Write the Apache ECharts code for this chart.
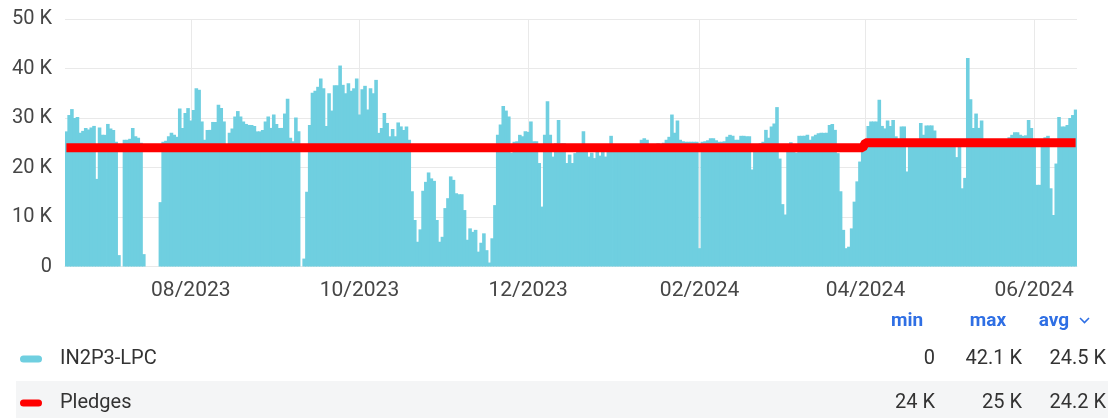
<!DOCTYPE html>
<html>
<head>
<meta charset="utf-8">
<title>IN2P3-LPC vs Pledges</title>
<script src="https://cdn.jsdelivr.net/npm/echarts@6/dist/echarts.min.js"></script>
<style>
  html, body { margin: 0; padding: 0; background: #fff; }
  #chart { width: 1112px; height: 418px; }
</style>
</head>
<body>
<div id="chart"></div>
<script>
// ---- data (values in K) ----
var startDay = [2023, 5, 17];   // 2023-06-17, one bar per day
var dayCount = 366;

var lpcValues = [
  27.3, 30.6, 31.8, 30, 30.2, 27, 27.4, 28, 27.7, 28.1,
  28.4, 17.7, 28.1, 26.6, 26.6, 28.8, 27.9, 27.6, 25.2, 2.3,
  0, 25.6, 25.6, 25.8, 28, 26.3, 26, 25, 2.5, 0,
  0, 0, 0, 0, 13, 25.2, 25.4, 26.3, 27, 26.6,
  26.2, 31.9, 28, 31, 32, 29.5, 31.6, 36, 35.7, 29.3,
  25.6, 27.6, 27.6, 29.2, 29.2, 32.7, 32, 29.3, 24, 27,
  27.9, 30.3, 31.4, 30.3, 29.3, 28.8, 28.6, 28.6, 28.4, 27.3,
  27.3, 27.6, 29.3, 30.3, 28, 30.7, 28.8, 28, 28, 30.9,
  33.9, 26, 25.3, 30.1, 27.3, 0, 1.6, 15.1, 28.6, 35.1,
  35.5, 36.3, 38, 36, 28.4, 35, 31.5, 36.6, 36.6, 40.6,
  36.7, 35, 37, 35.5, 36, 38, 30.7, 35.8, 36.5, 31.7,
  36, 35, 37.7, 27, 28, 31, 29, 26.3, 27.8, 26.3,
  29.1, 28.3, 27.6, 28.3, 25.6, 15.2, 9.4, 5, 7.5, 15.3,
  17.1, 19, 17.8, 17.3, 9.4, 5, 6, 11.8, 13.8, 18.2,
  17.5, 14.8, 14.6, 14.6, 11.4, 5.4, 7.7, 7, 7.4, 3,
  4.8, 6.7, 3.3, 0.8, 5.7, 12.4, 26.6, 28.7, 32.4, 31.5,
  30.3, 23, 25.2, 25.3, 26.6, 26.3, 27.3, 27.2, 29.3, 25.3,
  25.3, 20.9, 12.1, 26.6, 33.4, 26.6, 22.2, 24.9, 29.6, 24.9,
  24.9, 20.9, 22.6, 20.9, 22.9, 24.3, 24.3, 27.3, 24.5, 22.2,
  23, 21.9, 24, 22.4, 23.2, 22.2, 23.7, 26.4, 24, 23.2,
  23.5, 23.2, 23.6, 23.4, 23.8, 24.2, 24.6, 24.5, 25.6, 25.9,
  25.6, 24.6, 24.3, 24.5, 24.9, 24.6, 25, 25.6, 26.2, 30.7,
  27, 29.5, 25.6, 25.3, 25.2, 25.2, 25.2, 25.2, 25.2, 3.7,
  25.2, 25.3, 25.5, 25.9, 25.9, 25.5, 25.2, 25.2, 25.3, 26.2,
  26.6, 26.4, 25.6, 25.6, 26.4, 26.4, 26.3, 26.3, 19.6, 24.5,
  24.7, 24.9, 25.2, 27.6, 26, 28.3, 28.9, 32.2, 21.8, 12.6,
  10.5, 24.6, 25.1, 24.6, 23, 26.4, 26.4, 26.4, 26.6, 25.6,
  26.3, 26.6, 26.9, 27, 27, 27, 28.6, 28.8, 27.6, 22.9,
  15.2, 7.4, 3.7, 4, 7.7, 13.1, 17.2, 21.2, 23.2, 24.6,
  28.4, 29.3, 29.3, 29.3, 33.7, 28.4, 27.9, 29.5, 28.4, 29.6,
  26.3, 25, 28.3, 28.3, 19.2, 25.3, 25.3, 25.3, 25.3, 29,
  26.6, 28.5, 28.5, 28.5, 27.5, 25.3, 25.3, 25.3, 25.3, 25.3,
  25.3, 25.3, 22.1, 25.3, 15.8, 17.9, 42.1, 33.8, 28, 30.9,
  28, 29.5, 25.3, 25.3, 25.3, 25.3, 25.3, 25.3, 25.3, 25.3,
  25.3, 26.1, 26.6, 27.1, 27.1, 26.6, 26.4, 26.5, 29.6, 28,
  25.3, 16.5, 16.5, 25.3, 26.1, 26.4, 15.8, 10.4, 20.8, 30.2,
  28.3, 28.3, 28.6, 30, 30.6, 31.7
];

// pledge level changes: [date, value in K]
var pledgePoints = [
  ['2023-06-17', 24],
  ['2024-03-31', 24],
  ['2024-04-01', 25],
  ['2024-06-16', 25]
];

var tickMonths = ['08/2023', '10/2023', '12/2023', '02/2024', '04/2024', '06/2024'];
var yTicks = [0, 10, 20, 30, 40, 50];

var seriesNames = ['IN2P3-LPC', 'Pledges'];
var seriesColors = ['#6fcfe0', '#ff0000'];
var statHeaders = ['min', 'max', 'avg'];
var statRows = [
  ['0', '42.1 K', '24.5 K'],
  ['24 K', '25 K', '24.2 K']
];

(function () {
  'use strict';

  var font = 'Roboto, "Noto Sans", sans-serif';
  var ink = '#333333';
  var axisInk = '#464646';
  var gridColor = '#e9e9e9';
  var headBlue = '#2f6fe4';

  // daily category labels
  var dates = [];
  var t0 = Date.UTC(startDay[0], startDay[1], startDay[2]);
  for (var i = 0; i < dayCount; i++) {
    dates.push(new Date(t0 + i * 86400000).toISOString().slice(0, 10));
  }

  function monthLabel(d) { return d.slice(5, 7) + '/' + d.slice(0, 4); }
  function isTick(index) {
    var d = dates[index];
    return !!d && d.slice(8) === '01' && tickMonths.indexOf(monthLabel(d)) >= 0;
  }

  // legend table (swatch, name, min/max/avg)
  var colRight = [935, 1022, 1106];
  var headCenter = [907, 988, 1054];
  var rowY = [359, 403];
  var headFont = 'bold 19px ' + font;
  var rowFont = '20px ' + font;
  var graphics = [
    { type: 'rect', shape: { x: 16, y: 381, width: 1092, height: 37 }, style: { fill: '#f4f5f6' }, z: 0 },
    { type: 'polyline', shape: { points: [[1080, 318], [1084.5, 322.5], [1089, 318]] }, style: { stroke: headBlue, lineWidth: 1.6, fill: null } }
  ];
  statHeaders.forEach(function (h, c) {
    graphics.push({ type: 'text', x: headCenter[c], y: 321, style: { text: h, fill: headBlue, font: headFont, textAlign: 'center', textVerticalAlign: 'middle' } });
  });
  seriesNames.forEach(function (name, r) {
    graphics.push({ type: 'rect', shape: { x: 20, y: rowY[r] - 3.5, width: 22, height: 7, r: 3.5 }, style: { fill: seriesColors[r] } });
    graphics.push({ type: 'text', x: 60, y: rowY[r], style: { text: name, fill: ink, font: rowFont, textVerticalAlign: 'middle' } });
    statRows[r].forEach(function (s, c) {
      graphics.push({ type: 'text', x: colRight[c], y: rowY[r], style: { text: s, fill: ink, font: rowFont, textAlign: 'right', textVerticalAlign: 'middle' } });
    });
  });

  var chart = echarts.init(document.getElementById('chart'), null, { renderer: 'canvas' });
  chart.setOption({
    animation: false,
    backgroundColor: '#fff',
    textStyle: { fontFamily: font },
    grid: { left: 65, right: 35, top: 19, bottom: 151.5, containLabel: false },
    xAxis: {
      type: 'category',
      data: dates,
      boundaryGap: true,
      axisLine: { show: true, lineStyle: { color: gridColor } },
      axisTick: { show: false, alignWithLabel: true, interval: isTick },
      axisLabel: {
        interval: isTick,
        formatter: monthLabel,
        color: axisInk,
        fontSize: 21,
        margin: 14
      },
      splitLine: { show: true, interval: isTick, alignWithLabel: true, lineStyle: { color: gridColor, width: 1 } }
    },
    yAxis: {
      type: 'value',
      min: yTicks[0],
      max: yTicks[yTicks.length - 1],
      interval: 10,
      axisLine: { show: false },
      axisTick: { show: false },
      axisLabel: {
        color: axisInk,
        fontSize: 20,
        margin: 13,
        formatter: function (v) { return v === 0 ? '0' : v + ' K'; }
      },
      splitLine: { lineStyle: { color: gridColor, width: 1 } }
    },
    series: [
      {
        name: seriesNames[0],
        type: 'bar',
        data: lpcValues,
        barWidth: '130%',
        itemStyle: { color: seriesColors[0] },
        z: 2
      },
      {
        name: seriesNames[1],
        type: 'line',
        data: pledgePoints,
        symbol: 'none',
        lineStyle: { color: seriesColors[1], width: 9 },
        z: 3
      }
    ],
    graphic: graphics
  });
})();
</script>
</body>
</html>
